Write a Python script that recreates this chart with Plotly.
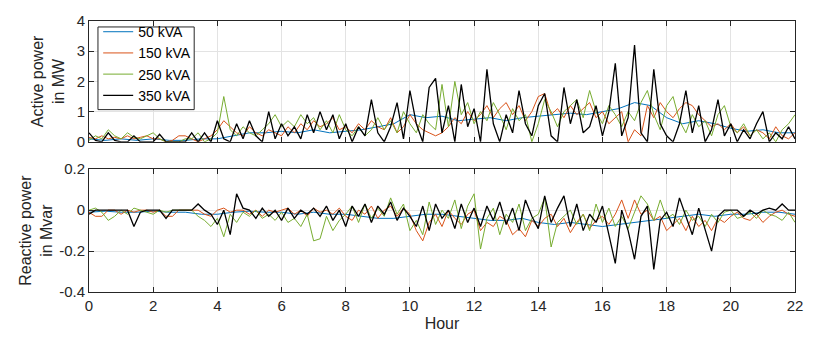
import plotly.graph_objects as go
from plotly.subplots import make_subplots

# hours for the 0.2 h sampled series and the 0.5 h sampled series
n_fine = 111
hours_fine = [round(0.2 * i, 1) for i in range(n_fine)]
hours_coarse = [0.5 * i for i in range(45)]

series_names = ["50 kVA", "150 kVA", "250 kVA", "350 kVA"]
colors = ["#0072BD", "#D95319", "#77AC30", "#000000"]

# Active power in MW
p_50 = [0.1,0.05,0.1,0.05,0.1,0.05,0.05,0.1,0.1,0.2,
        0.3,0.3,0.35,0.3,0.4,0.3,0.35,0.4,0.5,0.6,
        0.9,0.8,0.85,0.7,0.75,0.8,0.7,0.8,0.85,0.9,
        0.95,0.9,1.0,1.1,1.3,1.2,0.8,0.6,0.7,0.6,
        0.45,0.35,0.4,0.3,0.3]
p_150 = [0.15,0.1,0.2,0.1,0.15,0.1,
         0.2,0.1,0.15,0.2,0.1,
         0.1,0.0,0.05,0.2,0.2,
         0.1,0.0,0.1,0.2,0.4,
         0.7,0.5,0.3,0.2,0.5,
         0.3,0.2,0.4,0.3,0.2,
         0.5,0.3,0.6,0.4,0.7,
         0.5,0.6,0.8,0.4,0.5,
         0.3,0.6,0.4,0.7,0.5,
         0.4,0.8,0.3,0.5,0.9,
         0.6,0.4,0.3,0.2,0.3,
         0.5,0.8,0.6,1.0,0.7,
         0.9,1.2,0.8,1.1,1.3,
         0.9,1.2,0.7,1.0,1.5,
         1.6,0.9,1.1,0.8,1.2,
         0.9,1.1,1.3,0.8,1.0,
         0.6,0.8,1.0,0.0,0.4,
         0.2,1.2,0.8,1.3,1.0,
         0.8,1.1,1.3,1.2,0.9,
         0.7,0.5,0.6,0.4,0.6,
         0.3,0.5,0.2,0.4,0.3,
         0.1,0.5,0.2,0.1,0.3]
p_250 = [0.05,0.2,0.1,0.4,0.2,0.1,
         0.3,0.15,0.1,0.2,0.3,
         0.1,0.0,0.0,0.0,0.1,
         0.1,0.3,0.0,0.1,0.3,
         1.5,0.4,0.2,0.5,0.3,
         0.2,0.4,0.6,0.9,0.5,
         0.7,0.5,0.9,0.6,0.8,
         0.4,0.7,0.3,0.9,0.4,
         0.2,0.5,0.2,0.4,0.8,
         0.4,0.7,0.3,1.0,0.6,
         0.3,0.9,0.6,0.4,1.9,
         0.5,2.0,0.9,1.3,0.6,
         1.0,0.7,1.3,0.9,0.4,
         1.1,0.7,0.9,0.0,0.6,
         1.4,1.0,0.5,1.0,1.2,
         1.4,0.8,1.7,1.0,0.6,
         1.2,0.9,0.5,1.0,0.7,
         1.3,1.7,0.9,0.4,1.2,
         1.5,0.7,0.3,0.9,0.5,
         0.7,0.2,0.9,1.2,0.5,
         0.3,0.6,0.2,0.4,0.1,
         0.3,0.0,0.4,0.6,0.9]
p_350 = [0.3,0.05,0.0,0.3,0.05,0.0,
         0.0,0.2,0.0,0.0,0.0,
         0.25,0.0,0.0,0.0,0.0,
         0.3,0.0,0.3,0.0,0.7,
         0.1,0.0,0.6,0.1,0.7,
         0.2,0.0,1.0,0.1,0.6,
         0.2,0.5,0.1,0.9,0.3,
         1.0,0.4,0.9,0.1,0.6,
         0.0,0.5,0.2,1.4,0.3,
         0.0,0.5,1.3,0.1,1.7,
         0.6,0.0,1.8,2.1,0.3,
         1.2,0.0,1.9,0.5,1.1,
         0.0,2.4,0.6,0.0,0.9,
         0.3,1.7,0.6,0.2,1.2,
         1.6,0.2,0.0,1.8,0.6,
         1.4,0.3,0.5,1.2,0.2,
         1.0,2.6,0.2,0.8,3.2,
         0.3,0.0,2.4,0.6,0.2,
         0.0,0.6,1.7,0.3,1.2,
         0.0,0.4,1.4,0.2,0.6,
         0.0,0.4,0.1,0.6,1.0,
         0.0,0.3,0.1,0.5,0.1]

# Reactive power in Mvar
q_50 = [-0.01,-0.005,-0.01,-0.01,-0.005,-0.01,-0.01,-0.02,-0.02,-0.01,
        -0.005,-0.01,-0.01,-0.02,-0.01,-0.02,-0.02,-0.03,-0.04,-0.04,
        -0.03,-0.02,-0.02,-0.03,-0.04,-0.05,-0.05,-0.04,-0.06,-0.07,
        -0.06,-0.07,-0.08,-0.07,-0.06,-0.05,-0.04,-0.03,-0.02,-0.03,
        -0.02,-0.02,-0.01,-0.01,-0.02]
q_150 = [-0.01,-0.03,-0.03,0.0,0.0,-0.02,
         0.0,-0.01,0.0,0.0,-0.01,
         0.0,-0.03,-0.03,0.0,0.0,
         0.0,0.0,-0.02,-0.03,0.0,
         0.01,-0.01,0.0,0.0,-0.02,
         0.0,-0.03,0.0,-0.01,0.0,
         0.01,-0.02,0.0,-0.03,0.01,
         -0.01,0.0,-0.02,0.01,-0.03,
         -0.05,0.0,-0.02,0.02,-0.04,
         0.0,0.02,-0.03,0.01,-0.02,
         -0.1,-0.15,-0.06,-0.02,-0.08,
         0.0,-0.04,-0.07,-0.02,0.0,
         -0.1,-0.06,-0.08,-0.03,-0.05,
         -0.12,-0.09,-0.13,-0.05,-0.08,
         -0.04,-0.02,-0.08,-0.04,-0.11,
         -0.06,-0.02,-0.09,-0.05,-0.03,
         -0.07,-0.02,0.05,-0.04,0.05,
         -0.02,0.0,-0.05,-0.03,-0.1,
         -0.07,-0.04,-0.1,-0.03,-0.08,
         -0.05,-0.1,-0.04,-0.06,-0.03,
         -0.01,-0.04,-0.05,-0.02,-0.06,
         -0.03,-0.01,0.0,-0.02,-0.03]
q_250 = [0.0,0.01,-0.01,-0.05,-0.03,0.0,
         -0.02,0.01,0.0,-0.01,-0.02,
         0.0,-0.01,0.0,0.0,0.0,
         0.0,-0.03,-0.05,-0.08,-0.04,
         -0.13,-0.02,-0.06,-0.01,-0.03,
         0.0,-0.04,-0.02,-0.05,-0.01,
         -0.06,-0.04,-0.08,-0.02,-0.15,
         -0.14,-0.03,-0.1,-0.05,-0.02,
         0.02,-0.06,0.03,-0.04,0.01,
         -0.03,0.06,-0.02,0.03,-0.1,
         -0.05,-0.12,0.04,-0.07,0.0,
         -0.04,0.05,-0.09,0.02,0.08,
         -0.19,-0.04,0.01,-0.12,-0.02,
         -0.06,0.03,-0.1,-0.04,-0.02,
         0.06,-0.18,-0.06,-0.03,0.0,
         -0.07,-0.02,-0.1,0.03,-0.06,
         0.01,-0.08,-0.03,-0.09,-0.01,
         0.07,0.03,-0.05,0.05,-0.04,
         -0.02,-0.07,0.0,-0.05,-0.03,
         -0.08,-0.02,-0.06,-0.01,0.0,
         -0.04,-0.03,-0.01,-0.04,0.0,
         -0.02,-0.03,-0.05,-0.01,-0.06]
q_350 = [-0.02,0.0,0.0,0.0,0.0,0.0,
         0.0,-0.08,-0.01,0.0,0.0,
         0.0,-0.04,0.0,0.0,0.0,
         0.0,0.03,0.0,-0.02,-0.07,
         0.0,-0.12,0.08,0.01,0.0,
         -0.04,0.01,-0.03,0.0,-0.05,
         0.01,-0.04,0.0,-0.02,0.01,
         -0.03,0.02,-0.05,0.0,-0.08,
         0.02,-0.03,0.03,-0.06,0.02,
         -0.02,0.04,-0.05,0.01,-0.03,
         -0.08,0.02,-0.1,0.03,-0.04,
         0.0,-0.09,0.03,-0.06,0.01,
         -0.08,0.02,-0.05,0.04,-0.07,
         0.01,-0.1,0.05,-0.03,-0.09,
         0.07,-0.06,0.01,0.07,-0.08,
         0.03,-0.1,-0.02,-0.06,0.02,
         -0.12,-0.26,0.0,-0.1,-0.24,
         -0.03,0.02,-0.29,-0.05,-0.01,
         -0.08,0.06,-0.03,-0.12,0.01,
         -0.1,-0.2,-0.03,0.0,0.0,
         0.0,-0.03,0.0,-0.02,0.0,
         0.01,0.0,0.03,0.0,0.0]

x_ticks = list(range(0, 23, 2))
p_ticks = [0, 1, 2, 3, 4]
q_ticks = [-0.4, -0.2, 0, 0.2]
q_tick_text = ["-0.4", "-0.2", "0", "0.2"]

FONT = "Liberation Sans, Arial, sans-serif"
AX = "#262626"
GRID = "#e3e3e3"

fig = make_subplots(rows=2, cols=1, shared_xaxes=False, vertical_spacing=0.1)

p_data = [(hours_coarse, p_50), (hours_fine, p_150), (hours_fine, p_250), (hours_fine, p_350)]
q_data = [(hours_coarse, q_50), (hours_fine, q_150), (hours_fine, q_250), (hours_fine, q_350)]

for k, name in enumerate(series_names):
    w = 1.3 if k == 3 else 1.0
    fig.add_trace(go.Scatter(x=p_data[k][0], y=p_data[k][1], mode="lines", name=name,
                             line=dict(color=colors[k], width=w), legendgroup=name),
                  row=1, col=1)
for k, name in enumerate(series_names):
    w = 1.3 if k == 3 else 1.0
    fig.add_trace(go.Scatter(x=q_data[k][0], y=q_data[k][1], mode="lines", name=name,
                             line=dict(color=colors[k], width=w), legendgroup=name,
                             showlegend=False),
                  row=2, col=1)

common_x = dict(range=[0, 22], tickvals=x_ticks, showgrid=True, gridcolor=GRID,
                showline=True, linecolor=AX, linewidth=1, mirror="ticks",
                ticks="inside", ticklen=5, tickcolor=AX, zeroline=False,
                tickfont=dict(family=FONT, size=15, color=AX))
common_y = dict(showgrid=True, gridcolor=GRID, showline=True, linecolor=AX, linewidth=1,
                mirror="ticks", ticks="inside", ticklen=5, tickcolor=AX, zeroline=False,
                tickfont=dict(family=FONT, size=15, color=AX))

# legend frame (white box behind the legend entries, over the lines)
fig.add_shape(type="rect", xref="paper", yref="paper",
              x0=0.0127, x1=0.149, y0=0.673, y1=0.978,
              fillcolor="white", line=dict(color=AX, width=1), layer="above")

fig.update_layout(
    width=815, height=346,
    margin=dict(l=89, r=16, t=14, b=54),
    paper_bgcolor="white", plot_bgcolor="white",
    font=dict(family=FONT, size=15, color=AX),
    xaxis=dict(common_x, domain=[0, 1], showticklabels=False),
    xaxis2=dict(common_x, domain=[0, 1],
                title=dict(text="Hour", font=dict(family=FONT, size=16, color=AX), standoff=4)),
    yaxis=dict(common_y, domain=[0.554, 1], range=[0, 4], tickvals=p_ticks,
               title=dict(text="Active power<br>in MW", font=dict(family=FONT, size=16, color=AX), standoff=8)),
    yaxis2=dict(common_y, domain=[0, 0.453], range=[-0.4, 0.2], tickvals=q_ticks,
                ticktext=q_tick_text,
                title=dict(text="Reactive power<br>in Mvar", font=dict(family=FONT, size=16, color=AX), standoff=2)),
    legend=dict(x=0.013, y=1.018, xanchor="left", yanchor="top",
                bgcolor="rgba(0,0,0,0)", borderwidth=0,
                font=dict(family=FONT, size=14, color="#000000"),
                tracegroupgap=0, itemwidth=30),
    showlegend=True,
)

fig.write_html("out.html")
